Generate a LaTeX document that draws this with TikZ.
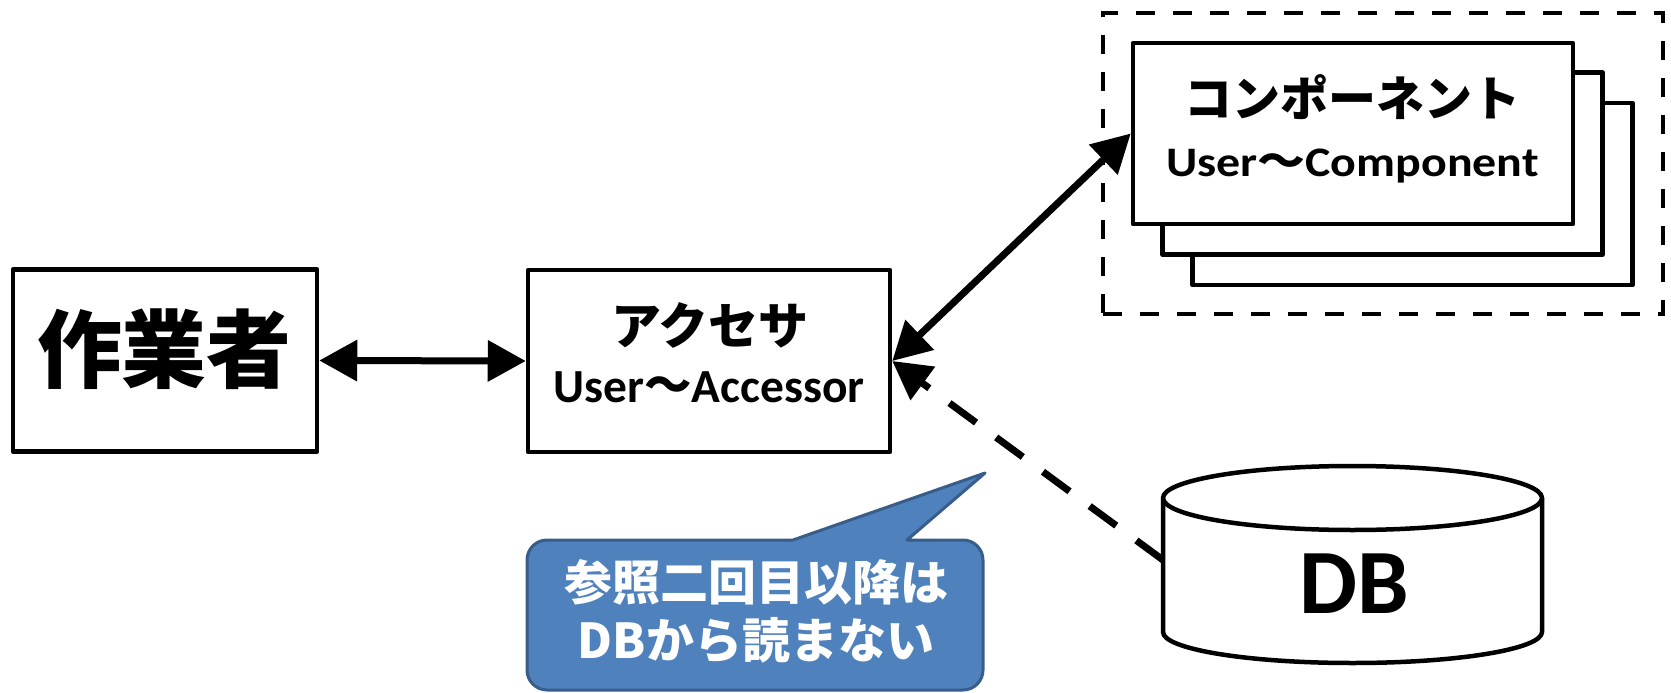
\documentclass[tikz,border=0pt]{standalone}
\usepackage{fontspec}
\setmainfont{Carlito}
\newfontfamily\jp{Noto Sans CJK JP}
\usetikzlibrary{arrows.meta}
\definecolor{calloutfill}{HTML}{4F81BD}
\definecolor{calloutline}{HTML}{385D8A}

\begin{document}
\begin{tikzpicture}[x=1pt,y=1pt,
  box/.style={draw, line width=4.5pt, line join=round, fill=white, inner sep=0pt},
  compbox/.style={box, minimum width=440pt, minimum height=182pt},
  grouped/.style={draw, line width=4.6pt, dash pattern=on 19pt off 18pt, inner sep=0pt,
                  minimum width=560pt, minimum height=301pt},
  dbline/.style={line width=4.5pt, line join=round},
  link/.style={line width=7pt, {Triangle[length=38pt,width=40pt]}-{Triangle[length=38pt,width=40pt]}},
  weaklink/.style={line width=7pt, dash pattern=on 33pt off 25pt, -{Triangle[length=38pt,width=40pt]}},
  callout/.style={fill=calloutfill, draw=calloutline, line width=3pt, line join=round},
  jpt/.style={font=\jp\bfseries\fontsize{#1}{#1}\selectfont, inner sep=0pt, anchor=base},
  lat/.style={font=\bfseries\fontsize{#1}{#1}\selectfont, inner sep=0pt, anchor=base},
]
\useasboundingbox (0,0) rectangle (1671,-693);

% worker and accessor
\node[box, minimum width=304pt, minimum height=182pt] (worker) at (165,-360.5) {};
\node[jpt=85] (workerlbl) at (164.5,-381) {作業者};

\node[box, minimum width=362pt, minimum height=182pt] (acc) at (709,-361) {};
\node[jpt=50] (acclbl1) at (710,-344) {アクセサ};
\node[lat=47.5] (acclbl2) at (709,-402) {User{\jp ～}Accessor};

% component stack inside the dashed group
\node[grouped] (group) at (1383,-163.5) {};
\node[compbox] (comp3) at (1412.5,-194) {};
\node[compbox] (comp2) at (1382.5,-163.5) {};
\node[compbox, minimum height=181pt] (comp) at (1353,-133.5) {};
\node[jpt=48] (complbl1) at (1352.5,-117) {コンポーネント};
\node[lat=42, xscale=1.14, transform shape] (complbl2) at (1352.5,-176) {User{\jp ～}Component};

% database cylinder
\fill[white] (1163,-498) -- (1163,-632) arc[start angle=180,end angle=360,x radius=189.5,y radius=31] -- (1542,-498) -- cycle;
\draw[dbline] (1163,-498) -- (1163,-632) arc[start angle=180,end angle=360,x radius=189.5,y radius=31] -- (1542,-498);
\draw[dbline, fill=white] (1352.5,-498) ellipse[x radius=189.5,y radius=32];
\node[lat=92] (db) at (1354,-613) {DB};
\coordinate (dbside) at (1163,-560);

% connectors
\draw[link] (worker.east) -- (acc.west);
\draw[link] (acc.east) -- (comp.west);
\draw[weaklink] (dbside) -- (acc.east);

% callout
\draw[callout] (547,-540) -- (793,-540) -- (985,-473) -- (907,-540) -- (963,-540)
  arc[start angle=90,end angle=0,radius=20] -- (983,-670)
  arc[start angle=0,end angle=-90,radius=20] -- (547,-690)
  arc[start angle=270,end angle=180,radius=20] -- (527,-560)
  arc[start angle=180,end angle=90,radius=20] -- cycle;
\node[jpt=48, text=white] (note1) at (756,-600) {参照二回目以降は};
\node[jpt=48, text=white] (note2) at (756,-658) {DBから読まない};
\end{tikzpicture}
\end{document}
